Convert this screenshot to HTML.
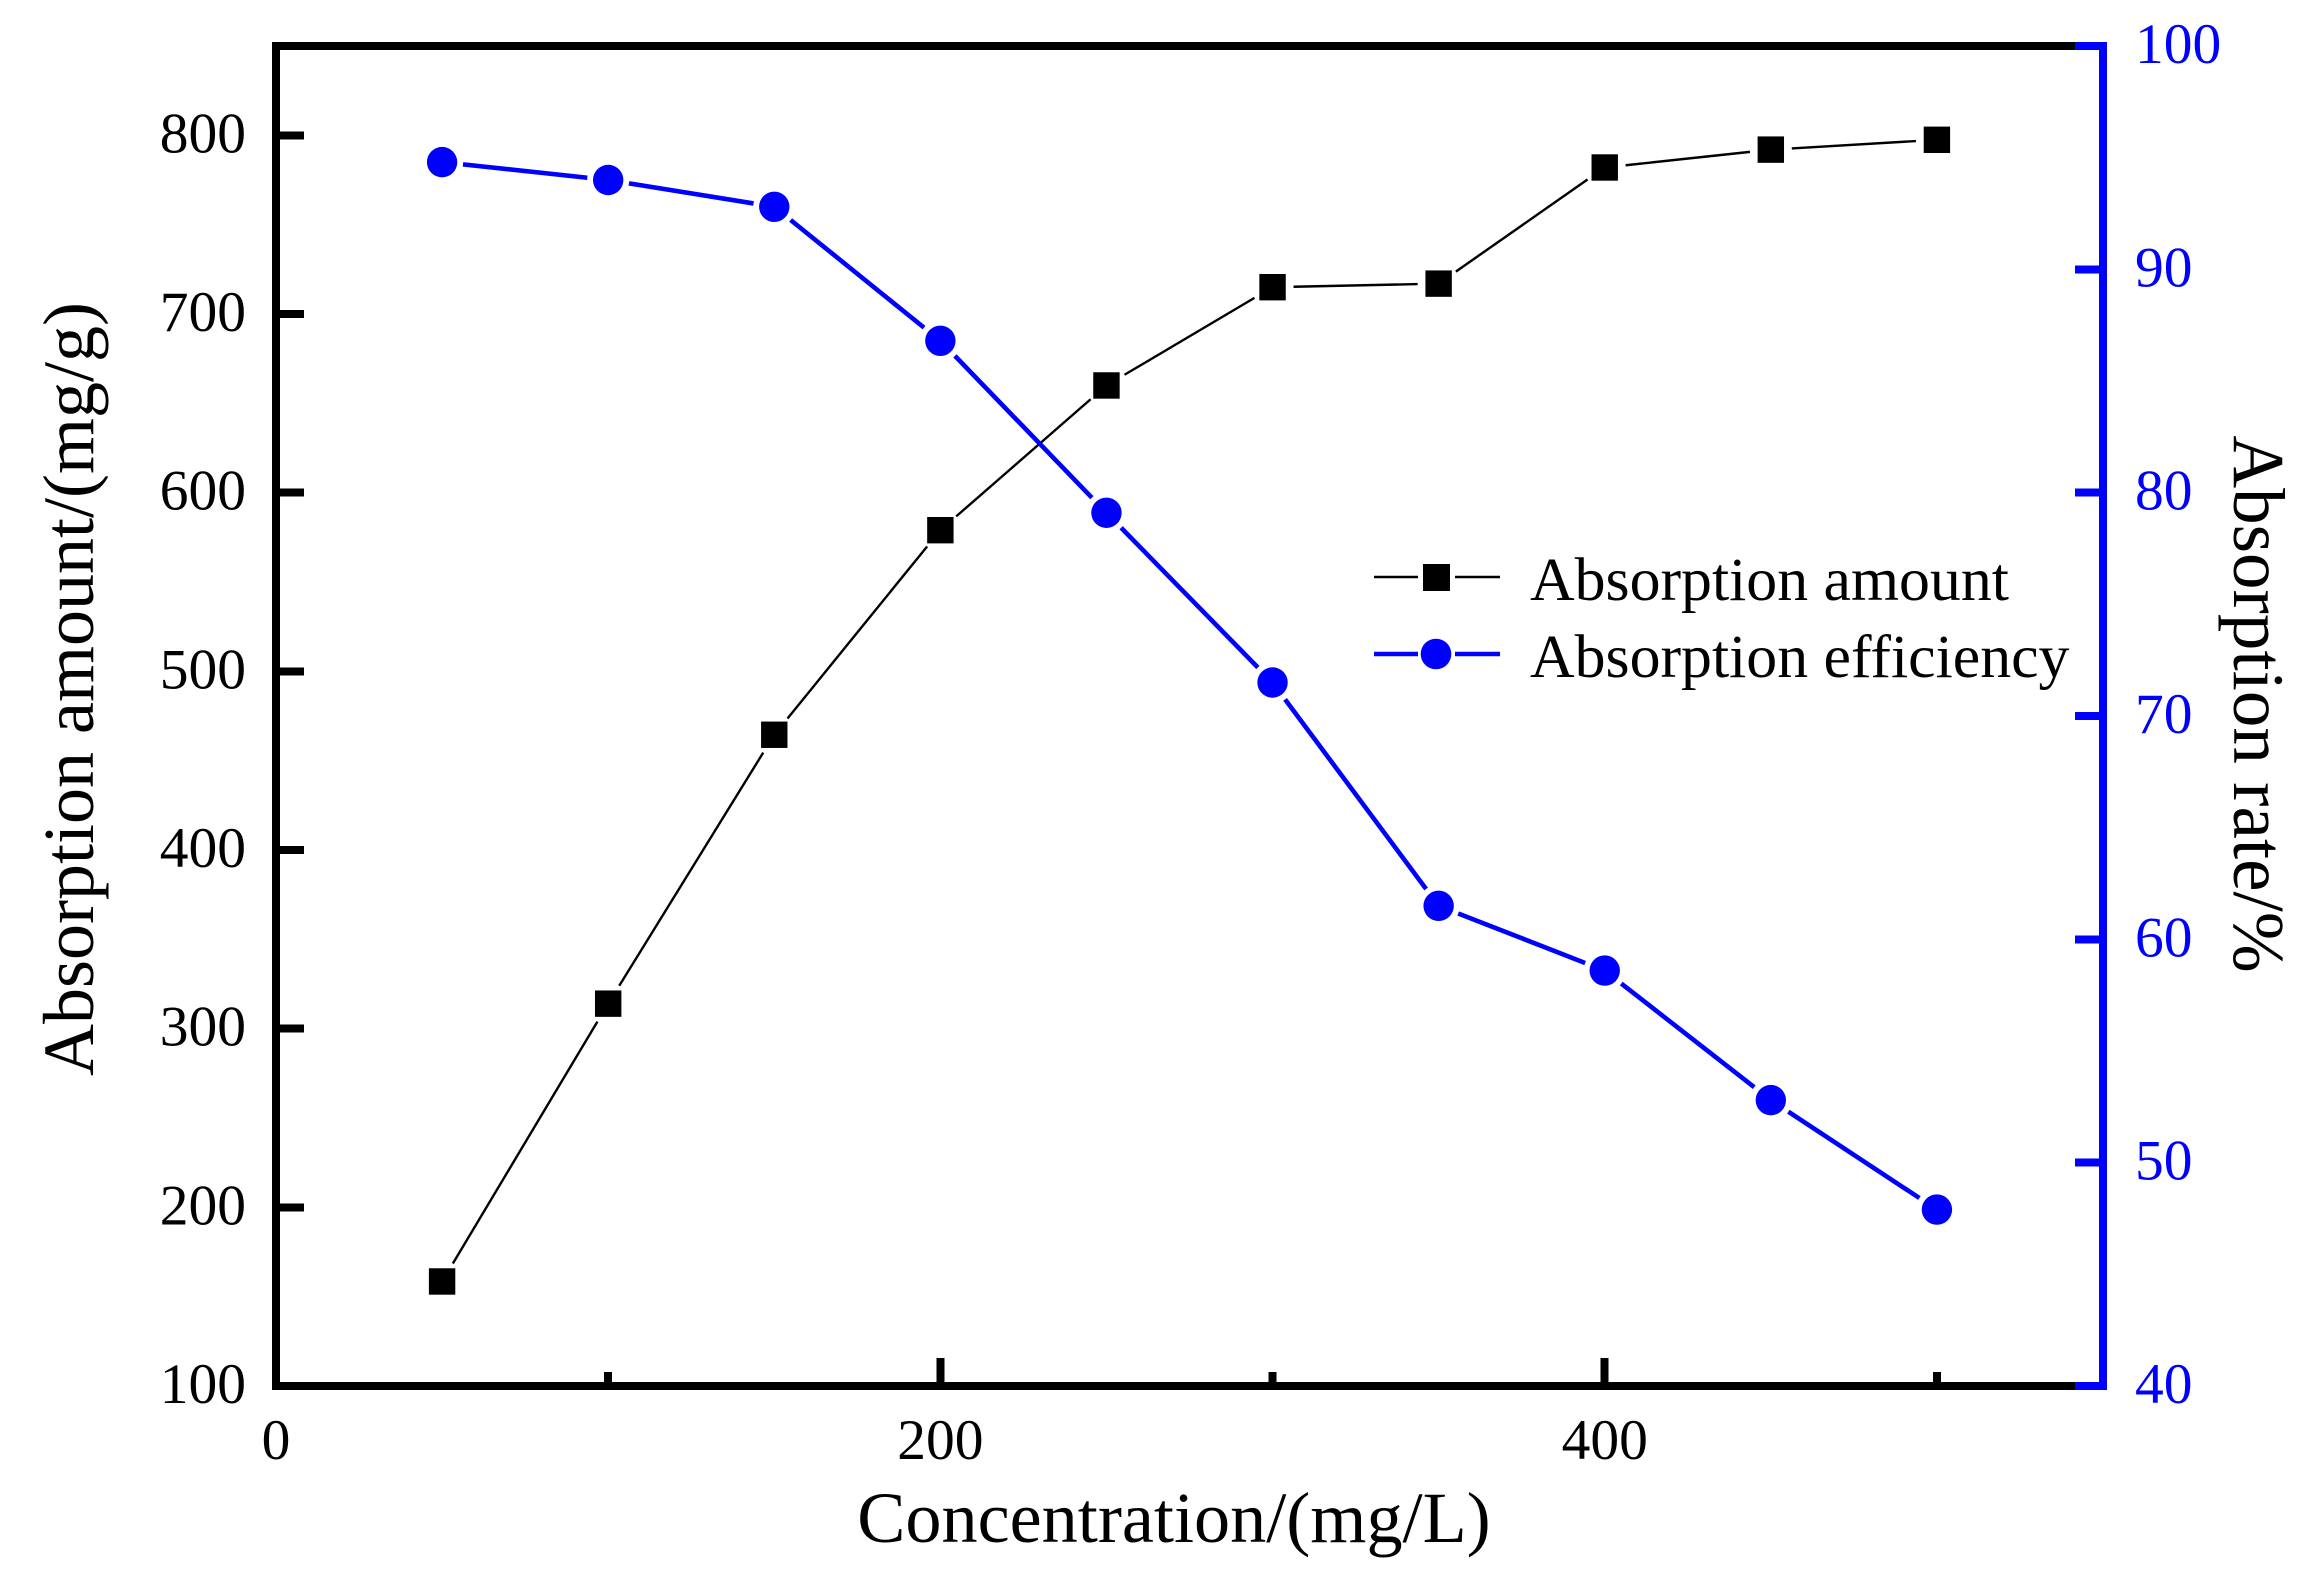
<!DOCTYPE html>
<html lang="en">
<head>
<meta charset="utf-8">
<title>Absorption chart</title>
<style>
html,body{margin:0;padding:0;background:#fff;}
svg{display:block;}
text{font-family:"Liberation Serif","Times New Roman",serif;}
</style>
</head>
<body>
<svg id="chart" xmlns="http://www.w3.org/2000/svg" width="2322" height="1576" viewBox="0 0 2322 1576">
  <rect x="0" y="0" width="2322" height="1576" fill="#fff"/>
  <g id="marks"></g>
  <g id="axes"></g>
  <text x="1174" y="1542" font-size="72.2" text-anchor="middle" fill="#000">Concentration/(mg/L)</text>
  <text transform="translate(93,689) rotate(-90)" font-size="72" text-anchor="middle" fill="#000">Absorption amount/(mg/g)</text>
  <text transform="translate(2234,704) rotate(90)" font-size="73" text-anchor="middle" fill="#000">Absorption rate/%</text>
  <g>
    <g>
      <line x1="1374" y1="577" x2="1418" y2="577" stroke="#000" stroke-width="2.4"/>
      <line x1="1455" y1="577" x2="1500" y2="577" stroke="#000" stroke-width="2.4"/>
      <rect x="1423" y="564" width="27" height="27" fill="#000"/>
      <text x="1530" y="600" font-size="61.8" fill="#000">Absorption amount</text>
    </g>
    <g>
      <line x1="1374" y1="654" x2="1418" y2="654" stroke="#0000ff" stroke-width="4.6"/>
      <line x1="1455" y1="654" x2="1500" y2="654" stroke="#0000ff" stroke-width="4.6"/>
      <circle cx="1436" cy="654" r="15.3" fill="#0000ff"/>
      <text x="1530" y="677" font-size="61.8" fill="#000">Absorption efficiency</text>
    </g>
  </g>
</svg>
<script>
const concentration = [50, 100, 150, 200, 250, 300, 350, 400, 450, 500];
const absorptionAmount = [158.5, 314, 464.5, 579, 660, 715, 717, 782, 792, 797.5];
const absorptionEfficiency = [94.8, 94.0, 92.8, 86.8, 79.1, 71.5, 61.5, 58.6, 52.8, 47.9];
const xMajorTicks = [200, 400];
const xMinorTicks = [100, 300, 500];
const xTickLabels = [0, 200, 400];
const leftTicks = [200, 300, 400, 500, 600, 700, 800];
const leftTickLabels = [100, 200, 300, 400, 500, 600, 700, 800];
const rightTicks = [50, 60, 70, 80, 90];
const rightTickLabels = [40, 50, 60, 70, 80, 90, 100];
const xDomain = [0, 550];
const leftDomain = [100, 850];
const rightDomain = [40, 100];

const NS = 'http://www.w3.org/2000/svg';
const PLOT = {left: 276, right: 2103, top: 46, bottom: 1386};
const AXIS_W = 8, MAJOR = 28, MINOR = 14, GAP = 21;
const BLUE = '#0000ff';
const axesLayer = document.getElementById('axes');
const marksLayer = document.getElementById('marks');

function xScale(v) { return PLOT.left + (v - xDomain[0]) / (xDomain[1] - xDomain[0]) * (PLOT.right - PLOT.left); }
function yLeft(v) { return PLOT.bottom - (v - leftDomain[0]) / (leftDomain[1] - leftDomain[0]) * (PLOT.bottom - PLOT.top); }
function yRight(v) { return PLOT.bottom - (v - rightDomain[0]) / (rightDomain[1] - rightDomain[0]) * (PLOT.bottom - PLOT.top); }

function bar(parent, x, y, w, h, fill) {
  const r = document.createElementNS(NS, 'rect');
  r.setAttribute('x', x); r.setAttribute('y', y);
  r.setAttribute('width', w); r.setAttribute('height', h);
  r.setAttribute('fill', fill);
  r.setAttribute('shape-rendering', 'crispEdges');
  parent.appendChild(r);
  return r;
}
function label(parent, x, y, str, anchor, fill) {
  const t = document.createElementNS(NS, 'text');
  t.setAttribute('x', x); t.setAttribute('y', y);
  t.setAttribute('font-size', '57.5');
  t.setAttribute('text-anchor', anchor);
  t.setAttribute('fill', fill);
  t.textContent = str;
  parent.appendChild(t);
  return t;
}
function segment(parent, x1, y1, x2, y2, stroke, width) {
  const dx = x2 - x1, dy = y2 - y1, len = Math.hypot(dx, dy);
  const ux = dx / len, uy = dy / len;
  const l = document.createElementNS(NS, 'line');
  l.setAttribute('x1', x1 + ux * GAP); l.setAttribute('y1', y1 + uy * GAP);
  l.setAttribute('x2', x2 - ux * GAP); l.setAttribute('y2', y2 - uy * GAP);
  l.setAttribute('stroke', stroke); l.setAttribute('stroke-width', width);
  parent.appendChild(l);
  return l;
}

/* spines */
const hw = AXIS_W / 2;
const spineTop = bar(axesLayer, PLOT.left - hw, PLOT.top - hw, PLOT.right - PLOT.left + AXIS_W, AXIS_W, '#000');


const spineBottom = bar(axesLayer, PLOT.left - hw, PLOT.bottom - hw, PLOT.right - PLOT.left + AXIS_W, AXIS_W, '#000');


const spineLeft = bar(axesLayer, PLOT.left - hw, PLOT.top - hw, AXIS_W, PLOT.bottom - PLOT.top + AXIS_W, '#000');


const spineRight = bar(axesLayer, PLOT.right - hw, PLOT.top - hw, AXIS_W, PLOT.bottom - PLOT.top + AXIS_W, BLUE);


const cornerTop = bar(axesLayer, PLOT.right - MAJOR, PLOT.top - hw, MAJOR, AXIS_W, BLUE);


const cornerBottom = bar(axesLayer, PLOT.right - MAJOR, PLOT.bottom - hw, MAJOR, AXIS_W, BLUE);



/* x ticks */
xMajorTicks.forEach(function (v) {
  const t = bar(axesLayer, xScale(v) - hw, PLOT.bottom - MAJOR, AXIS_W, MAJOR, '#000');
  
  
});
xMinorTicks.forEach(function (v) {
  const t = bar(axesLayer, xScale(v) - hw, PLOT.bottom - MINOR, AXIS_W, MINOR, '#000');
  
  
});
xTickLabels.forEach(function (v) {
  const t = label(axesLayer, xScale(v), 1459, String(v), 'middle', '#000');
  
  
});

/* left ticks */
leftTicks.forEach(function (v) {
  const t = bar(axesLayer, PLOT.left, yLeft(v) - hw, MAJOR, AXIS_W, '#000');
  
  
});
leftTickLabels.forEach(function (v) {
  const t = label(axesLayer, 246, yLeft(v) + 17, String(v), 'end', '#000');
  
  
});

/* right ticks */
rightTicks.forEach(function (v) {
  const t = bar(axesLayer, PLOT.right - MAJOR, yRight(v) - hw, MAJOR, AXIS_W, BLUE);
  
  
});
rightTickLabels.forEach(function (v) {
  const t = label(axesLayer, 2135, yRight(v) + 17, String(v), 'start', BLUE);
  
  
});

/* series */
for (let i = 0; i < concentration.length - 1; i++) {
  const a = segment(marksLayer, xScale(concentration[i]), yLeft(absorptionAmount[i]), xScale(concentration[i + 1]), yLeft(absorptionAmount[i + 1]), '#000', 2.4);
  
  
  const b = segment(marksLayer, xScale(concentration[i]), yRight(absorptionEfficiency[i]), xScale(concentration[i + 1]), yRight(absorptionEfficiency[i + 1]), BLUE, 4.6);
  
  
}
concentration.forEach(function (c, i) {
  const s = document.createElementNS(NS, 'rect');
  s.setAttribute('x', xScale(c) - 13.2);
  s.setAttribute('y', yLeft(absorptionAmount[i]) - 13.2);
  s.setAttribute('width', 26.4);
  s.setAttribute('height', 26.4);
  s.setAttribute('fill', '#000');
  
  
  marksLayer.appendChild(s);
  const p = document.createElementNS(NS, 'circle');
  p.setAttribute('cx', xScale(c));
  p.setAttribute('cy', yRight(absorptionEfficiency[i]));
  p.setAttribute('r', 15.2);
  p.setAttribute('fill', BLUE);
  
  
  marksLayer.appendChild(p);
});
</script>
</body>
</html>
